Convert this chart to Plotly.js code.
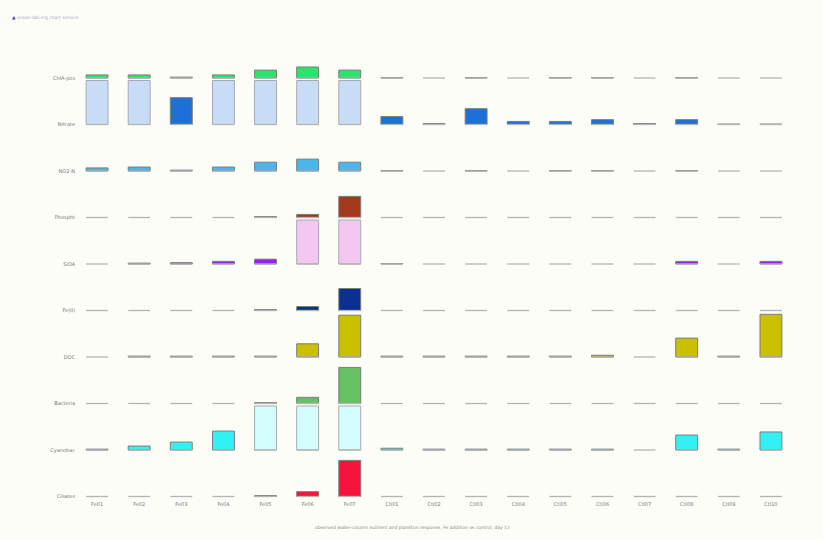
<!DOCTYPE html>
<html>
<head>
<meta charset="utf-8">
<script src="https://cdn.plot.ly/plotly-3.0.1.min.js"></script>
<style>html,body{margin:0;padding:0;background:#fdfdf7;}</style>
</head>
<body>
<div id="chart" style="width:823px;height:540px;"></div>
<script>
// ---- data (percent of cell capacity; >100 = overflow) ----
const columns = ["Fe01","Fe02","Fe03","Fe04","Fe05","Fe06","Fe07","Ctl01","Ctl02","Ctl03","Ctl04","Ctl05","Ctl06","Ctl07","Ctl08","Ctl09","Ctl10"];
const rowNames = ["ChlA-pos","Nitrate","NO2-N","Phospht","SiO4","Fe(II)","DOC","Bacteria","Cyanobac","Ciliates"];
const rowColors = ["#2ee26c","#1f6fd8","#4cb6e6","#a3391b","#9c1ee6","#0c2f92","#c9c000","#64c264","#30f2f2","#f5143c"];
const rowLight  = ["#c9ffd9","#c9dcf5","#d2ecf8","#f0d2c8","#f2c8f2","#c8d2f0","#f3f0b8","#d3f0d3","#d4fcfc","#fcd0d8"];

const vChl   = [7,7,2,7,18,25,18,1,0,1,0,1,1,0,1,0,0];
const vNit   = [150,140,61,145,160,170,165,18,2,36,7,7,11,2,11,1,1];
const vNo2   = [7,9,2,9,20,27,20,1,0,1,0,1,1,0,1,0,0];
const vPho   = [0,0,0,0,2,7,48,0,0,0,0,0,0,0,0,0,0];
const vSi    = [0,2,3,6,11,130,140,1,0,0,0,0,0,0,6,0,6];
const vFe    = [0,0,0,0,2,9,50,0,0,0,0,0,0,0,0,0,0];
const vDoc   = [0,2,2,2,2,30,95,2,2,2,2,2,4,0,43,2,97];
const vBac   = [0,0,0,0,2,14,82,0,0,0,0,0,0,0,0,0,0];
const vCya   = [2,9,18,43,150,160,170,4,2,2,2,2,2,0,34,2,41];
const vCil   = [0,0,0,0,2,11,82,0,0,0,0,0,0,0,0,0,0];

const rows = [vChl,vNit,vNo2,vPho,vSi,vFe,vDoc,vBac,vCya,vCil];

// ---- layout constants ----
const ROW_STEP = 46.5;      // axis units between row baselines
const PX_PER_PCT = 0.44;    // axis units per percent
const CAP = 100;
const BAR_W = 0.52;

const baselines = rows.map((_, r) => (rows.length - 1 - r) * ROW_STEP);
const xs = columns.map((_, i) => i);

const traces = [];

// baseline stubs
const bx = [], by = [];
baselines.forEach(b => {
  xs.forEach(x => { bx.push(x - BAR_W/2, x + BAR_W/2, null); by.push(b, b, null); });
});
traces.push({type:'scatter', mode:'lines', x:bx, y:by, line:{color:'#b4b4b4', width:1.3}, hoverinfo:'skip', showlegend:false});

rows.forEach((vals, r) => {
  const X = [], H = [], B = [], C = [], LC = [];
  vals.forEach((v, i) => {
    if (v <= 0) return;
    const over = v > CAP;
    X.push(i);
    H.push(Math.min(v, CAP) * PX_PER_PCT);
    B.push(baselines[r]);
    C.push(over ? rowLight[r] : rowColors[r]);
    LC.push(over ? '#a9a9b4' : '#7d7d7d');
  });
  traces.push({
    type:'bar', x:X, y:H, base:B, width:BAR_W,
    marker:{color:C, line:{color:LC, width:1}},
    hoverinfo:'skip', showlegend:false
  });
});

const layout = {
  width:823, height:540,
  margin:{l:76, r:31, t:60, b:40},
  paper_bgcolor:'#fdfdf7', plot_bgcolor:'#fdfdf7',
  barmode:'overlay',
  showlegend:false,
  xaxis:{range:[-0.5, columns.length-0.5], tickvals:xs, ticktext:columns,
         showgrid:false, zeroline:false, showline:false, ticks:'',
         tickfont:{family:'DejaVu Sans', size:5, color:'#777'}, fixedrange:true},
  yaxis:{range:[-3.5, 436.5], tickvals:baselines, ticktext:rowNames,
         showgrid:false, zeroline:false, showline:false, ticks:'',
         tickfont:{family:'DejaVu Sans', size:5, color:'#777'}, fixedrange:true},
  annotations:[
    {xref:'paper', yref:'paper', x:0.47, y:-0.062, xanchor:'center', yanchor:'middle', showarrow:false,
     text:'observed water-column nutrient and plankton response, Fe addition vs control, day 12',
     font:{family:'DejaVu Sans', size:4.5, color:'#888'}},
    {xref:'paper', yref:'paper', x:-0.092, y:1.097, xanchor:'left', yanchor:'middle', showarrow:false,
     text:'<span style="color:#2a4cc0">▲</span> ocean-lab.org chart service',
     font:{family:'DejaVu Sans', size:4.5, color:'#aab'}}
  ]
};

Plotly.newPlot('chart', traces, layout, {displayModeBar:false, staticPlot:true});
</script>
</body>
</html>
